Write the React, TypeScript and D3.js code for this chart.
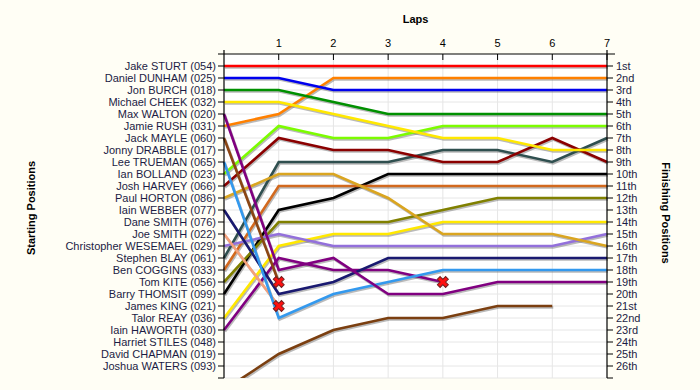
import React from 'react';
import * as d3 from 'd3';

// starting grid (left axis) and finishing labels (right axis)
const starters = [
  'Jake STURT (054)', 'Daniel DUNHAM (025)', 'Jon BURCH (018)', 'Michael CHEEK (032)',
  'Max WALTON (020)', 'Jamie RUSH (031)', 'Jack MAYLE (060)', 'Jonny DRABBLE (017)',
  'Lee TRUEMAN (065)', 'Ian BOLLAND (023)', 'Josh HARVEY (066)', 'Paul HORTON (086)',
  'Iain WEBBER (077)', 'Dane SMITH (076)', 'Joe SMITH (022)', 'Christopher WESEMAEL (029)',
  'Stephen BLAY (061)', 'Ben COGGINS (033)', 'Tom KITE (056)', 'Barry THOMSIT (099)',
  'James KING (021)', 'Talor REAY (036)', 'Iain HAWORTH (030)', 'Harriet STILES (048)',
  'David CHAPMAN (019)', 'Joshua WATERS (093)',
];
const finishers = [
  '1st', '2nd', '3rd', '4th', '5th', '6th', '7th', '8th', '9th', '10th', '11th', '12th', '13th',
  '14th', '15th', '16th', '17th', '18th', '19th', '20th', '21st', '22nd', '23rd', '24th', '25th', '26th',
];
const laps = [1, 2, 3, 4, 5, 6, 7];

// position at lap 0..7
const sturt = [1, 1, 1, 1, 1, 1, 1, 1];
const dunham = [2, 2, 3, 3, 3, 3, 3, 3];
const burch = [3, 3, 4, 5, 5, 5, 5, 5];
const cheek = [4, 4, 5, 6, 7, 7, 8, 8];
const walton = [5, 18, 17, 20, 20, 19, 19, 19];
const rush = [6, 5, 2, 2, 2, 2, 2, 2];
const mayle = [7, 19];
const trueman = [9, 22, 20, 19, 18, 18, 18, 18];
const bolland = [10, 6, 7, 7, 6, 6, 6, 6];
const harvey = [11, 7, 8, 8, 9, 9, 7, 9];
const horton = [12, 10, 10, 12, 15, 15, 15, 16];
const webber = [13, 20, 19, 17, 17, 17, 17, 17];
const joeSmith = [15, 21];
const wesemael = [16, 15, 16, 16, 16, 16, 16, 15];
const blay = [17, 9, 9, 9, 8, 8, 9, 7];
const coggins = [18, 11, 11, 11, 11, 11, 11, 11];
const kite = [19, 14, 14, 14, 13, 12, 12, 12];
const thomsit = [20, 13, 12, 10, 10, 10, 10, 10];
const reay = [22, 16, 15, 15, 14, 14, 14, 14];
const haworth = [23, 17, 18, 18, 19];
const pitStart = [28, 25, 23, 22, 22, 21, 21];

const series = [
  { pos: pitStart, color: '#7B3F10', out: false },
  { pos: haworth, color: '#800080', out: true },
  { pos: reay, color: '#FFE800', out: false },
  { pos: thomsit, color: '#000000', out: false },
  { pos: kite, color: '#808000', out: false },
  { pos: coggins, color: '#D2691E', out: false },
  { pos: blay, color: '#2F4F4F', out: false },
  { pos: wesemael, color: '#9370DB', out: false },
  { pos: joeSmith, color: '#F4A07A', out: true },
  { pos: webber, color: '#191970', out: false },
  { pos: horton, color: '#DAA520', out: false },
  { pos: harvey, color: '#8B0000', out: false },
  { pos: bolland, color: '#7CFC00', out: false },
  { pos: trueman, color: '#3399EE', out: false },
  { pos: mayle, color: '#8B4513', out: true },
  { pos: rush, color: '#FF8000', out: false },
  { pos: walton, color: '#800080', out: false },
  { pos: cheek, color: '#FFE800', out: false },
  { pos: burch, color: '#009000', out: false },
  { pos: dunham, color: '#0000EE', out: false },
  { pos: sturt, color: '#FF0000', out: false },
];

export default function App() {
  const width = 700
  const height = 390
  const x = d3.scaleLinear().domain([0, 7]).range([224, 607])
  const y = d3.scaleLinear().domain([0, 27]).range([54, 378])
  const line = d3.line<number>().x((d, i) => x(i)).y(d => y(d))
  const rows = d3.range(1, 28)
  const cross = d3.symbol().type(d3.symbolCross).size(75)()
  const font = 'Arial, "Liberation Sans", sans-serif'
  const textColor = '#1C1C44'

  return (
    <svg width={width} height={height} style={{ position: 'absolute', left: 0, top: 0 }} fontFamily={font}>
      <defs>
        <clipPath id="plot">
          <rect x={x(0) - 3} y={y(0)} width={x(7) - x(0) + 6} height={y(27) - y(0)} />
        </clipPath>
      </defs>
      <rect width={width} height={height} fill="#FFFEF5" />
      <rect x={x(0)} y={y(0)} width={x(7) - x(0)} height={y(27) - y(0)} fill="#fff" />

      {/* grid */}
      {rows.map(r => (
        <line key={'h' + r} x1={x(0)} x2={x(7)} y1={y(r)} y2={y(r)} stroke="#E6E6E6" />
      ))}
      {laps.slice(0, 6).map(l => (
        <line key={'v' + l} x1={x(l)} x2={x(l)} y1={y(0)} y2={y(27)} stroke="#E6E6E6" />
      ))}

      {/* laps */}
      <g clipPath="url(#plot)">
        {series.map((s, i) => (
          <path key={'s' + i} d={line(s.pos) || ''} transform="translate(1,1.5)" fill="none"
            stroke="#666" strokeOpacity={0.45} strokeWidth={2.6} />
        ))}
        {series.map((s, i) => (
          <path key={'l' + i} d={line(s.pos) || ''} fill="none" stroke={s.color} strokeWidth={2.6} />
        ))}
      </g>
      {series.filter(s => s.out).map((s, i) => (
        <path key={'x' + i} d={cross || ''} fill="#FF1010" stroke="#702020" strokeWidth={1}
          transform={`translate(${x(s.pos.length - 1)},${y(s.pos[s.pos.length - 1])}) rotate(45)`} />
      ))}

      {/* top axis */}
      <line x1={x(0) - 6} x2={x(7) + 8} y1={y(0)} y2={y(0)} stroke="#000" strokeWidth={1.2} />
      {laps.map(l => (
        <g key={'t' + l}>
          <line x1={x(l)} x2={x(l)} y1={y(0)} y2={y(0) + 6} stroke="#000" />
          <text x={x(l)} y={47} textAnchor="middle" fontSize={11} fill="#000">{l}</text>
        </g>
      ))}
      <text x={(x(0) + x(7)) / 2} y={23} textAnchor="middle" fontSize={11} fontWeight="bold" fill="#000">Laps</text>

      {/* left axis */}
      <line x1={x(0)} x2={x(0)} y1={y(0) - 4} y2={y(27)} stroke="#000" strokeWidth={1.2} />
      {rows.map(r => (
        <line key={'lt' + r} x1={x(0) - 6} x2={x(0)} y1={y(r)} y2={y(r)} stroke="#000" />
      ))}
      {starters.map((n, i) => (
        <text key={n} x={x(0) - 8} y={y(i + 1)} dy="0.35em" textAnchor="end" fontSize={11} fill={textColor}>{n}</text>
      ))}

      {/* right axis */}
      <line x1={x(7)} x2={x(7)} y1={y(0) - 4} y2={y(27)} stroke="#000" strokeWidth={1.2} />
      {rows.map(r => (
        <line key={'rt' + r} x1={x(7)} x2={x(7) + 6} y1={y(r)} y2={y(r)} stroke="#000" />
      ))}
      {finishers.map((n, i) => (
        <text key={n} x={x(7) + 9} y={y(i + 1)} dy="0.35em" fontSize={11} fill={textColor}>{n}</text>
      ))}

      <text transform="translate(35,208) rotate(-90)" textAnchor="middle" fontSize={11} fontWeight="bold" fill="#000">Starting Positions</text>
      <text transform="translate(662,213) rotate(90)" textAnchor="middle" fontSize={11} fontWeight="bold" fill="#000">Finishing Positions</text>
    </svg>
  );
}
